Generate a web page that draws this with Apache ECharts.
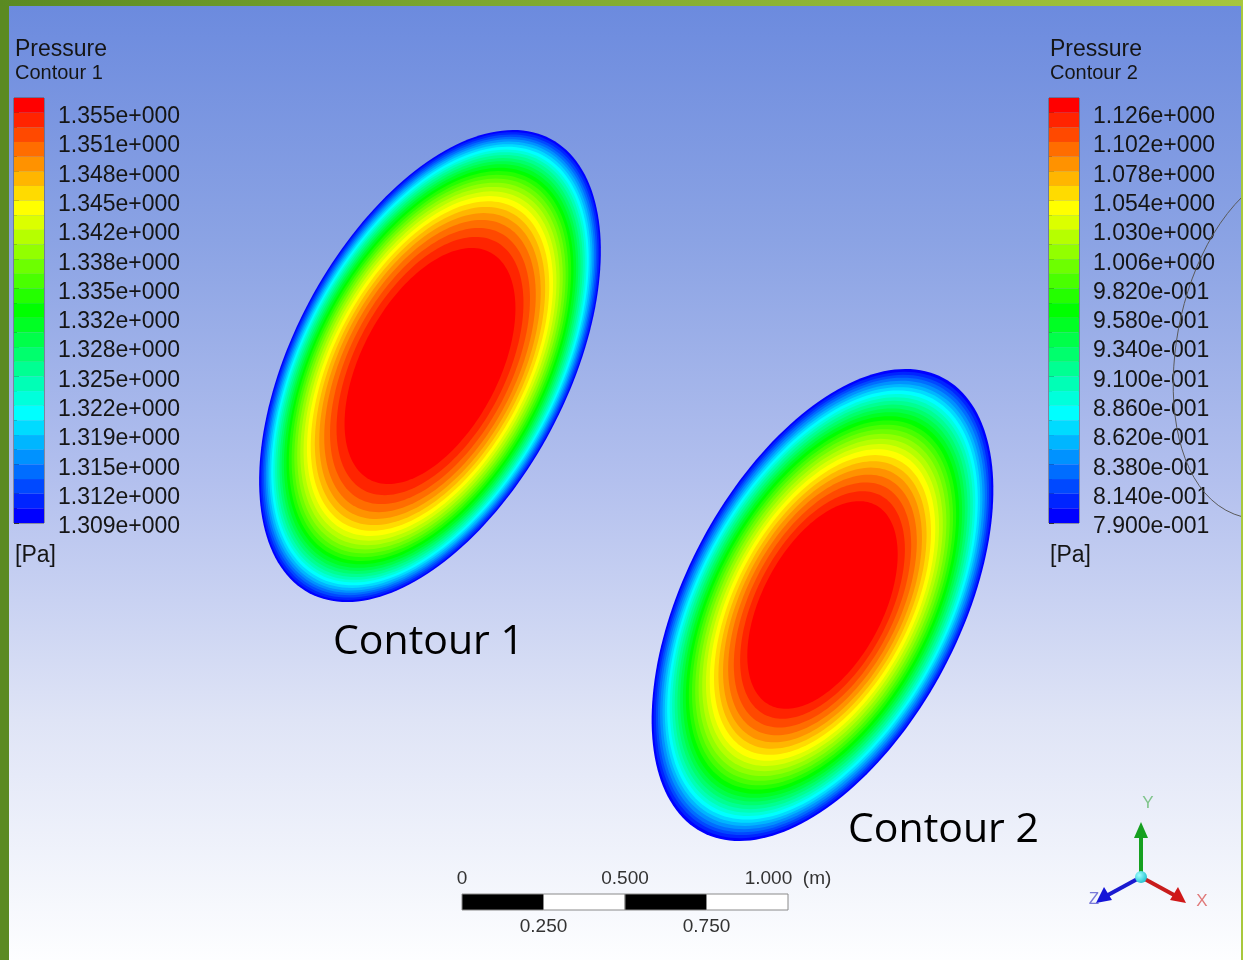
<!DOCTYPE html>
<html><head><meta charset="utf-8">
<script src="https://cdn.jsdelivr.net/npm/echarts@6/dist/echarts.min.js"></script>
<style>html,body{margin:0;padding:0;overflow:hidden;background:#fff}#c{width:1243px;height:960px}</style>
</head><body><div id="c"></div>
<script>
// ---- data ----
const contour1Labels = ['1.355e+000','1.351e+000','1.348e+000','1.345e+000','1.342e+000','1.338e+000','1.335e+000','1.332e+000','1.328e+000','1.325e+000','1.322e+000','1.319e+000','1.315e+000','1.312e+000','1.309e+000'];
const contour2Labels = ['1.126e+000','1.102e+000','1.078e+000','1.054e+000','1.030e+000','1.006e+000','9.820e-001','9.580e-001','9.340e-001','9.100e-001','8.860e-001','8.620e-001','8.380e-001','8.140e-001','7.900e-001'];
const bandIndices = [0,1,2,3,4,5,6,7,8,9,10,11,12,13,14,15,16,17,18,19,20,21,22,23,24,25,26,27,28];
// ellipse geometry in metres
const contour1Center = [1.319, 1.822];
const contour2Center = [2.523, 1.089];
const ellipseSemiAxes = [0.789, 0.420];
const ellipseTiltDeg = 28;
// relative radius of each contour level, from the wall (lowest band) to the core (highest band)
const contour1Radii = [1.000,0.991,0.981,0.971,0.961,0.951,0.940,0.929,0.917,0.906,0.894,0.881,0.868,0.855,0.840,0.826,0.810,0.794,0.777,0.759,0.740,0.720,0.698,0.674,0.648,0.619,0.585,0.547,0.500];
const contour2Radii = [1.000,0.988,0.975,0.963,0.950,0.936,0.923,0.909,0.894,0.880,0.865,0.849,0.833,0.817,0.800,0.782,0.764,0.745,0.725,0.704,0.682,0.660,0.635,0.609,0.582,0.552,0.519,0.482,0.440];
// scale bar (metres)
const scaleSegments = [0, 0.25, 0.5, 0.75];
const scaleTopTicks = {0: '0', 0.5: '0.500', 1: '1.000  (m)'};
const scaleBottomTicks = {0.25: '0.250', 0.75: '0.750'};

// ---- layout / style ----
const W = 1243, H = 960, PX_PER_M = 326;
const NB = bandIndices.length;
function bandColor(j) { return 'hsl(' + (j * 240 / (NB - 1)).toFixed(2) + ',100%,50%)'; }
const LBL_FONT = 'Liberation Sans, Arial, sans-serif';

const chart = echarts.init(document.getElementById('c'), null, {renderer: 'canvas'});

function ellipseItem(params, api) {
  const cx = api.value(0), cy = api.value(1), r = api.value(2), ci = api.value(3);
  const a = ellipseSemiAxes[0] * r, b = ellipseSemiAxes[1] * r;
  const th = ellipseTiltDeg * Math.PI / 180, s = Math.sin(th), c = Math.cos(th);
  const pts = [];
  const N = 180;
  for (let i = 0; i < N; i++) {
    const t = i / N * 2 * Math.PI;
    const u = b * Math.cos(t), v = a * Math.sin(t);
    pts.push(api.coord([cx + v * s + u * c, cy + v * c - u * s]));
  }
  return {type: 'polygon', shape: {points: pts}, style: {fill: bandColor(ci)}};
}
function legendItem(params, api) {
  const j = api.value(1);
  const p0 = api.coord([0, NB - j]);
  const p1 = api.coord([1, NB - 1 - j]);
  return {type: 'rect', shape: {x: p0[0], y: p0[1], width: p1[0] - p0[0], height: p1[1] - p0[1]}, style: {fill: bandColor(j)}};
}
function scaleItem(params, api) {
  const s = api.value(0), k = api.value(1);
  const p0 = api.coord([s, 1]);
  const p1 = api.coord([s + 0.25, 0]);
  return {type: 'rect', shape: {x: p0[0], y: p0[1], width: p1[0] - p0[0], height: p1[1] - p0[1]},
    style: {fill: k % 2 === 0 ? '#000' : '#fff', stroke: '#8a8a8a', lineWidth: 1}};
}
function legendAxis(gridIndex, labels) {
  return {
    type: 'value', gridIndex: gridIndex, position: 'right', min: 0, max: NB, interval: 2,
    axisLine: {show: false},
    axisTick: {show: true, length: 5, lineStyle: {color: '#333', width: 1}},
    minorTick: {show: true, splitNumber: 2, length: 3, lineStyle: {color: '#333', width: 1}},
    splitLine: {show: false}, minorSplitLine: {show: false},
    axisLabel: {margin: 14, showMinLabel: true, showMaxLabel: true,
      rich: {t: {fontSize: 23, color: '#151515', fontFamily: LBL_FONT, padding: [8, 0, 0, 0]}},
      formatter: function (v) { const i = (NB - 1 - v) / 2; return (Number.isInteger(i) && labels[i]) ? '{t|' + labels[i] + '}' : ''; }}
  };
}
function hiddenAxis(type, gridIndex, min, max) {
  return {type: type, gridIndex: gridIndex, min: min, max: max, show: false};
}
function txt(x, y, text, font, fill, align) {
  return {type: 'text', z: 50, style: {x: x, y: y, text: text, font: font, fill: fill, align: align || 'left', verticalAlign: 'middle'}};
}

const option = {
  animation: false,
  grid: [
    {left: 0, top: 0, width: W, height: H},
    {left: 14, top: 98, width: 30, height: 425, show: true, borderColor: '#555', borderWidth: 1, backgroundColor: 'transparent'},
    {left: 1049, top: 98, width: 30, height: 425, show: true, borderColor: '#555', borderWidth: 1, backgroundColor: 'transparent'},
    {left: 462, top: 894, width: PX_PER_M, height: 16}
  ],
  xAxis: [
    hiddenAxis('value', 0, 0, W / PX_PER_M),
    hiddenAxis('value', 1, 0, 1),
    hiddenAxis('value', 2, 0, 1),
    {type: 'value', gridIndex: 3, position: 'top', min: 0, max: 1, interval: 0.5,
      axisLine: {show: false}, axisTick: {show: false}, splitLine: {show: false},
      axisLabel: {margin: 6, fontSize: 19, color: '#333', fontFamily: LBL_FONT, showMinLabel: true, showMaxLabel: true,
        formatter: function (v) { return scaleTopTicks[v] || ''; }}},
    {type: 'value', gridIndex: 3, position: 'bottom', min: 0, max: 1, interval: 0.25,
      axisLine: {show: false}, axisTick: {show: false}, splitLine: {show: false},
      axisLabel: {margin: 7, fontSize: 19, color: '#333', fontFamily: LBL_FONT, showMinLabel: true, showMaxLabel: true,
        formatter: function (v) { return scaleBottomTicks[v] || ''; }}}
  ],
  yAxis: [
    hiddenAxis('value', 0, 0, H / PX_PER_M),
    legendAxis(1, contour1Labels),
    legendAxis(2, contour2Labels),
    hiddenAxis('value', 3, 0, 1)
  ],
  series: [
    {type: 'custom', xAxisIndex: 0, yAxisIndex: 0, renderItem: ellipseItem, silent: true,
      data: contour1Radii.map((r, k) => [contour1Center[0], contour1Center[1], r, NB - 1 - k])},
    {type: 'custom', xAxisIndex: 0, yAxisIndex: 0, renderItem: ellipseItem, silent: true,
      data: contour2Radii.map((r, k) => [contour2Center[0], contour2Center[1], r, NB - 1 - k])},
    {type: 'custom', xAxisIndex: 1, yAxisIndex: 1, renderItem: legendItem, silent: true, z: 1,
      data: bandIndices.map(j => [0.5, j])},
    {type: 'custom', xAxisIndex: 2, yAxisIndex: 2, renderItem: legendItem, silent: true, z: 1,
      data: bandIndices.map(j => [0.5, j])},
    {type: 'custom', xAxisIndex: 3, yAxisIndex: 3, renderItem: scaleItem, silent: true,
      data: scaleSegments.map((s, i) => [s, i])}
  ],
  graphic: [
    {type: 'rect', z: -100, silent: true, shape: {x: 0, y: 0, width: W, height: H},
      style: {fill: new echarts.graphic.LinearGradient(0, 0, 0, 1, [
        {offset: 0, color: '#6b8ade'}, {offset: 0.25, color: '#8ba3e4'}, {offset: 0.5, color: '#b3c0ee'},
        {offset: 0.75, color: '#dfe4f6'}, {offset: 1, color: '#fdfeff'}])}},
    // frame
    {type: 'rect', z: 100, silent: true, shape: {x: 0, y: 0, width: 9, height: H}, style: {fill: '#5b8a22'}},
    {type: 'rect', z: 100, silent: true, shape: {x: 0, y: 0, width: W, height: 6},
      style: {fill: new echarts.graphic.LinearGradient(0, 0, 1, 0, [
        {offset: 0, color: '#5a8a22'}, {offset: 0.35, color: '#7aa52e'}, {offset: 1, color: '#a6c63c'}])}},
    {type: 'rect', z: 100, silent: true, shape: {x: W - 2, y: 0, width: 2, height: H}, style: {fill: '#a8c83c'}},
    // arc on the right
    {type: 'bezierCurve', z: 40, silent: true,
      shape: {x1: 1243, y1: 196, cpx1: 1155, cpy1: 282, cpx2: 1145, cpy2: 492, x2: 1243, y2: 517},
      style: {stroke: '#5a5a5a', lineWidth: 1, fill: null}},
    // legend titles
    txt(15, 50, 'Pressure', '23px ' + LBL_FONT, '#151515'),
    txt(15, 73, 'Contour 1', '20px ' + LBL_FONT, '#151515'),
    txt(15, 556, '[Pa]', '23px ' + LBL_FONT, '#151515'),
    txt(1050, 50, 'Pressure', '23px ' + LBL_FONT, '#151515'),
    txt(1050, 73, 'Contour 2', '20px ' + LBL_FONT, '#151515'),
    txt(1050, 556, '[Pa]', '23px ' + LBL_FONT, '#151515'),
    // big labels
    txt(333, 642, 'Contour 1', '41px "Open Sans", sans-serif', '#000'),
    txt(848, 830, 'Contour 2', '41px "Open Sans", sans-serif', '#000'),
    // axis triad
    {type: 'line', z: 60, shape: {x1: 1141, y1: 877, x2: 1141, y2: 836}, style: {stroke: '#16a020', lineWidth: 4}},
    {type: 'polygon', z: 61, shape: {points: [[1134, 838], [1148, 838], [1141, 822]]}, style: {fill: '#16a020'}},
    {type: 'line', z: 60, shape: {x1: 1141, y1: 877, x2: 1174, y2: 895}, style: {stroke: '#c81c1c', lineWidth: 4}},
    {type: 'polygon', z: 61, shape: {points: [[1170, 900], [1178, 887], [1186, 903]]}, style: {fill: '#d01818'}},
    {type: 'line', z: 60, shape: {x1: 1141, y1: 877, x2: 1108, y2: 895}, style: {stroke: '#1a1ad0', lineWidth: 4}},
    {type: 'polygon', z: 61, shape: {points: [[1112, 900], [1104, 887], [1096, 903]]}, style: {fill: '#1515d8'}},
    {type: 'circle', z: 62, shape: {cx: 1141, cy: 877, r: 6},
      style: {fill: new echarts.graphic.RadialGradient(0.35, 0.35, 0.8, [{offset: 0, color: '#a0ffff'}, {offset: 1, color: '#10b8c8'}])}},
    txt(1148, 803, 'Y', '17px ' + LBL_FONT, '#7fc48a', 'center'),
    txt(1202, 901, 'X', '17px ' + LBL_FONT, '#e07a7a', 'center'),
    txt(1094, 899, 'Z', '17px ' + LBL_FONT, '#7a7ad8', 'center')
  ]
};
chart.setOption(option);
</script>
</body></html>
